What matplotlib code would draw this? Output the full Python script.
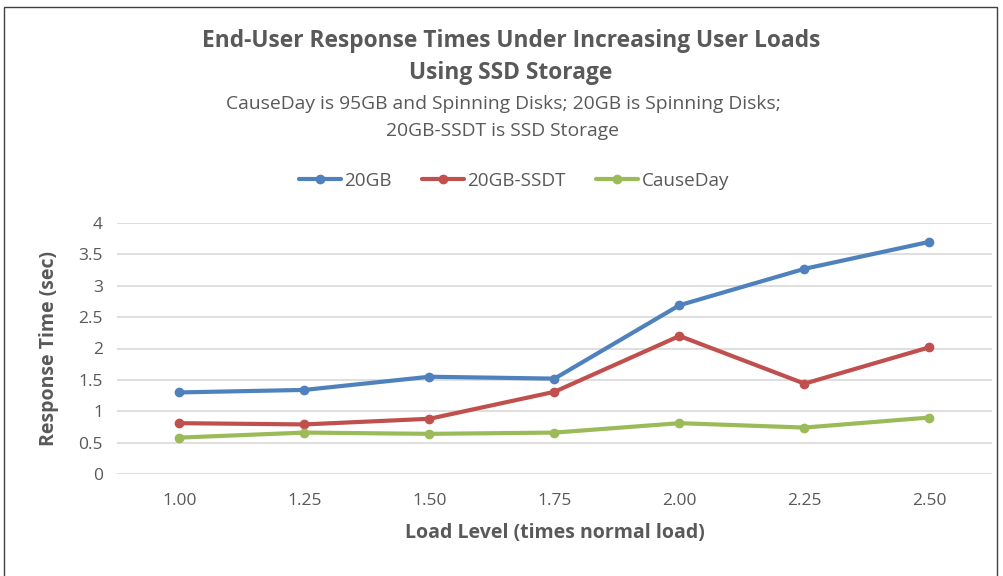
import matplotlib.pyplot as plt
from matplotlib.patches import Rectangle

plt.rcParams['font.family'] = ['Open Sans', 'DejaVu Sans']

load_levels = ['1.00', '1.25', '1.50', '1.75', '2.00', '2.25', '2.50']
resp_20gb = [1.30, 1.34, 1.55, 1.52, 2.69, 3.27, 3.70]
resp_20gb_ssdt = [0.81, 0.79, 0.88, 1.31, 2.20, 1.44, 2.02]
resp_causeday = [0.58, 0.66, 0.64, 0.66, 0.81, 0.74, 0.90]

series = [
    ('20GB', resp_20gb, '#4F81BD'),
    ('20GB-SSDT', resp_20gb_ssdt, '#C0504D'),
    ('CauseDay', resp_causeday, '#9BBB59'),
]

text_col = '#595959'

fig = plt.figure(figsize=(10.04, 5.76), dpi=100)
W, H = 1004, 576
# plot area in pixel units
left, right, top, bottom = 117, 992, 223, 474
ax = fig.add_axes([left / W, 1 - bottom / H, (right - left) / W, (bottom - top) / H])

x = range(len(load_levels))
for name, vals, col in series:
    ax.plot(x, vals, color=col, lw=3.0, marker='o', markersize=6,
            solid_capstyle='round', label=name, zorder=3)

ax.set_xlim(-0.5, len(load_levels) - 0.5)
ax.set_ylim(0, 4)
ax.set_yticks([0, 0.5, 1, 1.5, 2, 2.5, 3, 3.5, 4])
ax.set_yticklabels(['0', '0.5', '1', '1.5', '2', '2.5', '3', '3.5', '4'])
ax.set_xticks(list(x))
ax.set_xticklabels(load_levels)
ax.grid(axis='y', color='#D9D9D9', lw=1.2)
ax.set_axisbelow(True)
for s in ax.spines.values():
    s.set_visible(False)
ax.tick_params(length=0, labelsize=12.5, colors=text_col, pad=10)
ax.tick_params(axis='x', pad=14)

ax.set_xlabel('Load Level (times normal load)', fontsize=14, fontweight='bold',
              color=text_col, labelpad=10)
ax.set_ylabel('Response Time (sec)', fontsize=14, fontweight='bold',
              color=text_col, labelpad=14)

fig.text(511 / W, 1 - 41 / H, 'End-User Response Times Under Increasing User Loads',
         ha='center', va='center', fontsize=16.4, fontweight='bold', color=text_col)
fig.text(511 / W, 1 - 73 / H, 'Using SSD Storage',
         ha='center', va='center', fontsize=16.4, fontweight='bold', color=text_col)
fig.text(503 / W, 1 - 104 / H, 'CauseDay is 95GB and Spinning Disks; 20GB is Spinning Disks;',
         ha='center', va='center', fontsize=13.9, color=text_col)
fig.text(503 / W, 1 - 131 / H, '20GB-SSDT is SSD Storage',
         ha='center', va='center', fontsize=13.9, color=text_col)

leg = fig.legend(loc='center', bbox_to_anchor=(514 / W, 1 - 181 / H), ncol=3,
                 frameon=False, fontsize=13.6, handlelength=2.2, handletextpad=0.2,
                 columnspacing=1.6, labelcolor=text_col)

# chart frame
fig.patches.append(Rectangle((4 / W, -0.1), 993 / W, 1.1 - 7 / H, transform=fig.transFigure,
                             fill=False, edgecolor='#404040', lw=1.0))

fig.savefig('out.png', dpi=100)
